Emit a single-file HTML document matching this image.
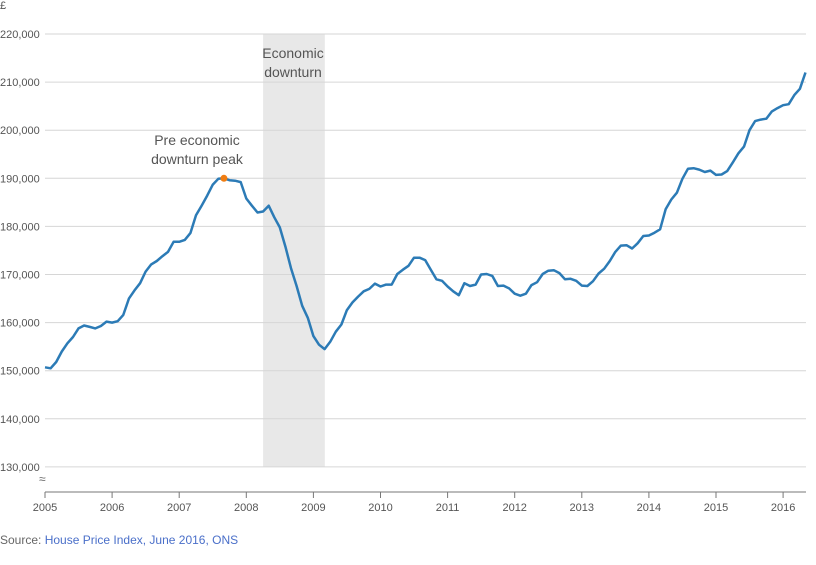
<!DOCTYPE html>
<html><head><meta charset="utf-8"><style>
body{margin:0;background:#fff;font-family:"Liberation Sans",sans-serif;}
svg text{font-family:"Liberation Sans",sans-serif;}
</style></head><body>
<svg id="c" width="816" height="560"></svg>
<script>
const startYear = 2005;
const yTicks = [130000,140000,150000,160000,170000,180000,190000,200000,210000,220000];
const xYears = [2005,2006,2007,2008,2009,2010,2011,2012,2013,2014,2015,2016];
const prices = [
150.7,150.5,151.8,154,155.7,157,158.8,159.4,159.1,158.8,159.3,160.2,
160.0,160.3,161.6,165,166.7,168.2,170.6,172.1,172.8,173.8,174.7,176.8,
176.8,177.2,178.6,182.3,184.3,186.4,188.7,189.9,190.0,189.6,189.5,189.2,
185.8,184.3,182.9,183.1,184.3,181.9,179.8,175.8,171.3,167.6,163.5,161.0,
157.2,155.4,154.5,156.0,158.1,159.6,162.6,164.2,165.4,166.5,167.0,168.1,
167.5,167.9,167.9,170.1,171.0,171.8,173.5,173.5,173.0,171.0,169.0,168.7,
167.5,166.5,165.7,168.2,167.6,167.9,170.0,170.1,169.7,167.6,167.7,167.1,
166.0,165.6,166.0,167.8,168.4,170.1,170.8,170.9,170.3,169.0,169.1,168.7,
167.7,167.6,168.6,170.2,171.2,172.8,174.7,176.0,176.1,175.4,176.5,178.0,
178.1,178.7,179.4,183.6,185.6,187.0,189.9,192.0,192.1,191.8,191.3,191.6,
190.7,190.8,191.5,193.3,195.2,196.6,200.0,201.9,202.2,202.4,203.9,204.6,
205.2,205.4,207.3,208.6,212.0];
const peakIndex = 32;
const downturnStart = 2008.25, downturnEnd = 2009.17;

const NS="http://www.w3.org/2000/svg";
const svg=document.getElementById('c');
const X0=45, X1=806, PY=67.1;
const x=t=>X0+(t-startYear)*PY;
const y=v=>34+(220000-v)/10000*48.1;
function el(tag,attrs,txt){const e=document.createElementNS(NS,tag);for(const k in attrs)e.setAttribute(k,attrs[k]);if(txt!==undefined)e.textContent=txt;svg.appendChild(e);return e;}

let r=el('rect',{x:x(downturnStart),y:34,width:x(downturnEnd)-x(downturnStart),height:433,fill:'#e8e8e8'});



yTicks.forEach(v=>{
 let l=el('line',{x1:X0,x2:X1,y1:y(v),y2:y(v),stroke:'#d6d6d6','stroke-width':1});
 
 
 let t=el('text',{x:0,y:y(v)+4,'font-size':11,fill:'#555'},v.toLocaleString('en-GB'));
 
 
});
let pnd=el('text',{x:0,y:9,'font-size':11,fill:'#555'},'£');


let br=el('text',{x:39,y:483,'font-size':12,fill:'#666'},'≈');



let ax=el('line',{x1:X0,x2:X1,y1:492,y2:492,stroke:'#777','stroke-width':1});


xYears.forEach(yr=>{
 let tk=el('line',{x1:x(yr),x2:x(yr),y1:492,y2:498,stroke:'#777'});
 
 
 let t=el('text',{x:x(yr),y:511,'font-size':11,fill:'#555','text-anchor':'middle'},yr);
 
 
});

const d=prices.map((v,i)=>(i?'L':'M')+x(startYear+i/12).toFixed(1)+' '+y(v*1000).toFixed(1)).join(' ');
let p=el('path',{d:d,fill:'none',stroke:'#2c7bb6','stroke-width':2.5,'stroke-linejoin':'round'});


let dot=el('circle',{cx:x(startYear+peakIndex/12),cy:y(prices[peakIndex]*1000),r:3.5,fill:'#f07d12'});



[['Pre economic',197,145],['downturn peak',197,164]].forEach(a=>{
 let t=el('text',{x:a[1],y:a[2],'font-size':14,fill:'#555','text-anchor':'middle'},a[0]);
 
 
});
[['Economic',293,58],['downturn',293,77]].forEach(a=>{
 let t=el('text',{x:a[1],y:a[2],'font-size':14,fill:'#555','text-anchor':'middle'},a[0]);
 
 
});
let s=el('text',{x:0,y:544,'font-size':12,fill:'#666'});


s.innerHTML='Source: <tspan fill="#4a6fc9">House Price Index, June 2016, ONS</tspan>';
</script>
</body></html>
